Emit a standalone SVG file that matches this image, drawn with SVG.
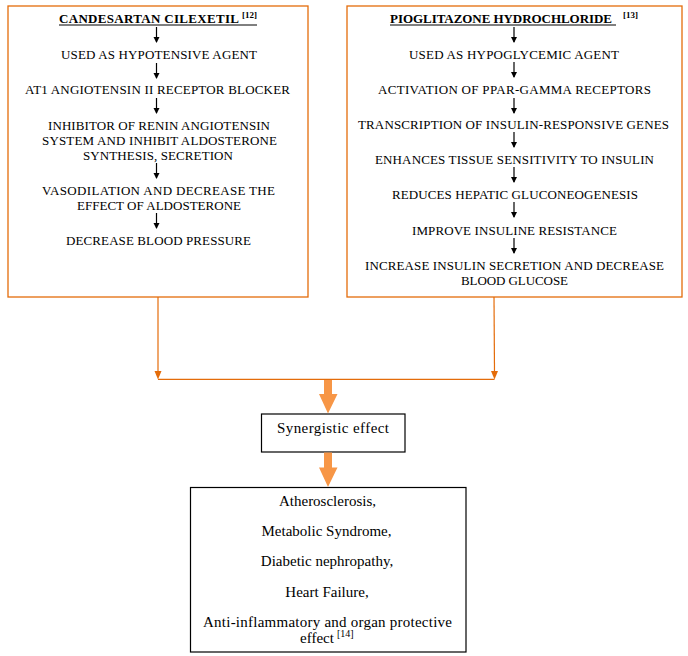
<svg xmlns="http://www.w3.org/2000/svg" width="688" height="656" viewBox="0 0 688 656">
<defs>
<style>
.box{fill:#fff;stroke:#E46C0A;stroke-width:1.3}
.bbox{fill:#fff;stroke:#000;stroke-width:1.2}
text{font-family:'Liberation Serif','Times New Roman',Times,'DejaVu Serif',serif}
.t{font-size:13px;fill:#000;text-anchor:middle}
.tb{font-size:13px;font-weight:bold;fill:#000}
.sup{font-size:9px;font-weight:bold;fill:#000}
.tl{font-size:15px;fill:#000;text-anchor:middle}
.sm{font-size:10px;fill:#000}
.ar{stroke:#000;stroke-width:1.2;fill:none;marker-end:url(#ah)}
.oc{stroke:#E46C0A;stroke-width:1.2;fill:none}
.fat{fill:#F79646}
</style>
<marker id="ah" markerWidth="6" markerHeight="8" refX="5" refY="3" orient="auto" markerUnits="userSpaceOnUse" viewBox="0 0 6 6">
<path d="M0,0 L6,3 L0,6 Z" fill="#000"/>
</marker>
</defs>
<rect width="688" height="656" fill="#fff"/>

<g id="candesartan" font-family="Liberation Serif, Times New Roman, serif">
<rect class="box" x="8" y="6" width="300" height="291"/>
<text class="tb" x="59" y="23" textLength="180" lengthAdjust="spacing">CANDESARTAN  CILEXETIL</text>
<text class="sup" x="242" y="18">[12]</text>
<line x1="59" y1="25" x2="257" y2="25" stroke="#000" stroke-width="1"/>
<text class="t" x="159" y="59" textLength="196" lengthAdjust="spacing">USED AS HYPOTENSIVE AGENT</text>
<text class="t" x="157.5" y="94" textLength="265" lengthAdjust="spacing">AT1 ANGIOTENSIN  II RECEPTOR BLOCKER</text>
<text class="t" x="159" y="130" textLength="222" lengthAdjust="spacing">INHIBITOR OF RENIN ANGIOTENSIN</text>
<text class="t" x="159.5" y="144.5" textLength="235" lengthAdjust="spacing">SYSTEM AND INHIBIT ALDOSTERONE</text>
<text class="t" x="158" y="159.5" textLength="150" lengthAdjust="spacing">SYNTHESIS, SECRETION</text>
<text class="t" x="158.5" y="195" textLength="233" lengthAdjust="spacing">VASODILATION  AND  DECREASE  THE</text>
<text class="t" x="159" y="209.5" textLength="164" lengthAdjust="spacing">EFFECT OF ALDOSTERONE</text>
<text class="t" x="158.5" y="244.5" textLength="185" lengthAdjust="spacing">DECREASE  BLOOD  PRESSURE</text>
</g>

<g id="pioglitazone">
<rect class="box" x="347" y="6" width="335" height="291"/>
<text class="tb" x="390" y="23" textLength="222" lengthAdjust="spacing">PIOGLITAZONE  HYDROCHLORIDE</text>
<text class="sup" x="623" y="18">[13]</text>
<line x1="390" y1="25" x2="616" y2="25" stroke="#000" stroke-width="1"/>
<text class="t" x="514" y="59" textLength="210" lengthAdjust="spacing">USED AS HYPOGLYCEMIC AGENT</text>
<text class="t" x="514.5" y="94" textLength="273" lengthAdjust="spacing">ACTIVATION OF PPAR-GAMMA RECEPTORS</text>
<text class="t" x="513.5" y="128.5" textLength="311" lengthAdjust="spacing">TRANSCRIPTION OF INSULIN-RESPONSIVE  GENES</text>
<text class="t" x="514.5" y="163.5" textLength="279" lengthAdjust="spacing">ENHANCES TISSUE SENSITIVITY TO INSULIN</text>
<text class="t" x="515" y="198.5" textLength="246" lengthAdjust="spacing">REDUCES HEPATIC GLUCONEOGENESIS</text>
<text class="t" x="514.5" y="234.5" textLength="205" lengthAdjust="spacing">IMPROVE INSULINE RESISTANCE</text>
<text class="t" x="514.5" y="270" textLength="299" lengthAdjust="spacing">INCREASE INSULIN SECRETION AND DECREASE</text>
<text class="t" x="514.5" y="284.5" textLength="107" lengthAdjust="spacing">BLOOD GLUCOSE</text>
</g>

<g id="synergistic">
<rect class="bbox" x="261.5" y="414" width="143.5" height="38"/>
<text class="tl" x="333" y="433" textLength="112" lengthAdjust="spacing">Synergistic effect</text>
</g>

<g id="effects">
<rect class="bbox" x="190.5" y="487.5" width="275.5" height="164.5"/>
<text class="tl" x="327.5" y="506">Atherosclerosis,</text>
<text class="tl" x="326.5" y="536">Metabolic Syndrome,</text>
<text class="tl" x="327" y="566">Diabetic nephropathy,</text>
<text class="tl" x="327" y="596.5">Heart Failure,</text>
<text class="tl" x="327.5" y="626.5" textLength="249" lengthAdjust="spacing">Anti-inflammatory and organ protective</text>
<text class="tl" x="300" y="642.5" style="text-anchor:start">effect</text>
<text class="sm" x="337" y="637">[14]</text>
</g>

<g id="connectors">
<line class="ar" x1="156.5" y1="27" x2="156.5" y2="42"/>
<line class="ar" x1="156.5" y1="63" x2="156.5" y2="78"/>
<line class="ar" x1="156.5" y1="98" x2="156.5" y2="113"/>
<line class="ar" x1="156.5" y1="163" x2="156.5" y2="178"/>
<line class="ar" x1="156.5" y1="213" x2="156.5" y2="228"/>

<line class="ar" x1="514" y1="27" x2="514" y2="42"/>
<line class="ar" x1="514" y1="62" x2="514" y2="77"/>
<line class="ar" x1="514" y1="98" x2="514" y2="113"/>
<line class="ar" x1="514" y1="132" x2="514" y2="147"/>
<line class="ar" x1="514" y1="167" x2="514" y2="182"/>
<line class="ar" x1="514" y1="202" x2="514" y2="217"/>
<line class="ar" x1="514" y1="238" x2="514" y2="253"/>

<line class="oc" x1="158" y1="297" x2="158" y2="372" />
<path d="M154.5,371 L161.5,371 L158,379.5 Z" fill="#E46C0A"/>
<line class="oc" x1="494" y1="297" x2="494.5" y2="372" />
<path d="M491,371 L498,371 L494.5,379.5 Z" fill="#E46C0A"/>
<line class="oc" x1="158" y1="379.3" x2="494.5" y2="379.3"/>

<path class="fat" d="M324,380 L332,380 L332,394 L337.5,394 L328,413.5 L319,394 L324,394 Z"/>
<path class="fat" d="M324,452.5 L332,452.5 L332,467.5 L337.5,467.5 L328,487 L319,467.5 L324,467.5 Z"/>
</g>
</svg>
